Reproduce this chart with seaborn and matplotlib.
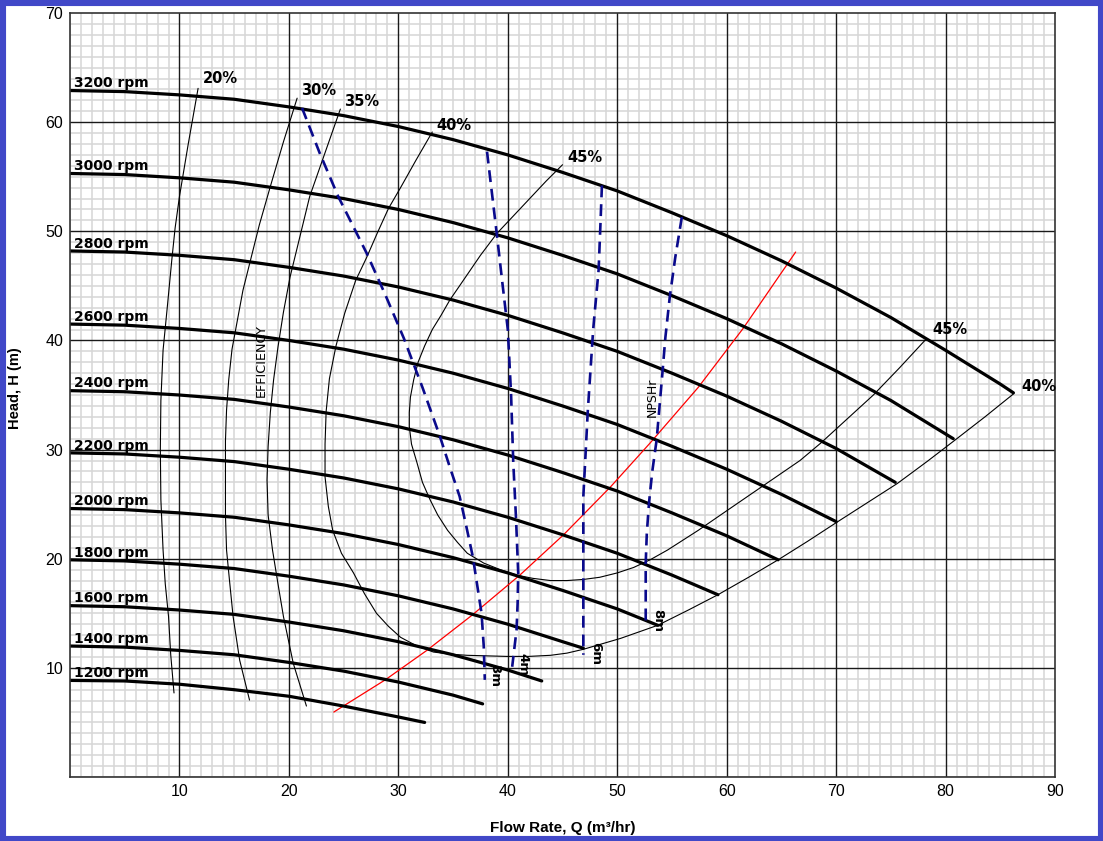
import numpy as np
import pandas as pd
import matplotlib
matplotlib.use("Agg")
import matplotlib.pyplot as plt
import seaborn as sns
from matplotlib.ticker import MultipleLocator
from matplotlib.patches import Rectangle

# ------------------------------------------
# Pump curves (head vs flow) for each speed
# ------------------------------------------
speeds = [3200, 3000, 2800, 2600, 2400, 2200, 2000, 1800, 1600, 1400, 1200]
q_steps = [0, 5, 10, 15, 20, 25, 30, 35, 40, 45, 50, 55, 60, 65, 70, 75, 80, 85]
q_end = [86.2, 80.7, 75.4, 70.0, 64.7, 59.2, 53.7, 46.9, 43.1, 37.7, 32.4]

h_3200 = [62.9, 62.8, 62.5, 62.1, 61.4, 60.6, 59.6, 58.4, 57.0, 55.4, 53.7, 51.7, 49.6, 47.3, 44.8, 42.1, 39.1, 36.0, 35.2]
h_3000 = [55.3, 55.2, 54.9, 54.5, 53.8, 53.0, 52.0, 50.8, 49.4, 47.8, 46.1, 44.1, 42.0, 39.7, 37.2, 34.5, 31.0]
h_2800 = [48.2, 48.1, 47.8, 47.4, 46.7, 45.9, 44.9, 43.7, 42.3, 40.7, 39.0, 37.0, 34.9, 32.6, 30.1, 27.0]
h_2600 = [41.5, 41.4, 41.1, 40.7, 40.0, 39.2, 38.2, 37.0, 35.6, 34.0, 32.3, 30.3, 28.2, 25.9, 23.4]
h_2400 = [35.4, 35.3, 35.0, 34.6, 33.9, 33.1, 32.1, 30.9, 29.5, 27.9, 26.2, 24.2, 22.1, 19.9]
h_2200 = [29.7, 29.6, 29.3, 28.9, 28.2, 27.4, 26.4, 25.2, 23.8, 22.2, 20.5, 18.5, 16.7]
h_2000 = [24.6, 24.5, 24.2, 23.8, 23.1, 22.3, 21.3, 20.1, 18.7, 17.1, 15.4, 13.9]
h_1800 = [19.9, 19.8, 19.5, 19.1, 18.4, 17.6, 16.6, 15.4, 14.0, 12.4, 11.8]
h_1600 = [15.7, 15.6, 15.3, 14.9, 14.2, 13.4, 12.4, 11.2, 9.8, 8.8]
h_1400 = [12.0, 11.9, 11.6, 11.2, 10.5, 9.7, 8.7, 7.5, 6.7]
h_1200 = [8.85, 8.8, 8.5, 8.0, 7.4, 6.5, 5.5, 5.0]

# ------------------------------------------
# Iso-efficiency curves
# ------------------------------------------
eff20_q = [11.7, 10.8, 10.0, 9.6, 9.3, 8.9, 8.5, 8.3, 8.25, 8.3, 8.5, 8.7, 9.0, 9.2, 9.5]
eff20_h = [63.1, 58.0, 53.2, 50.3, 47.4, 43.2, 39.1, 34.5, 30.0, 25.4, 20.8, 17.7, 14.7, 11.2, 7.7]
eff30_q = [20.75, 19.5, 18.3, 17.3, 16.5, 15.8, 15.3, 14.8, 14.5, 14.3, 14.2, 14.2, 14.2,
           14.3, 14.6, 14.9, 15.5, 16.4]
eff30_h = [62.2, 58.2, 54.1, 50.6, 47.4, 44.6, 41.9, 39.2, 36.4, 33.6, 30.8, 27.2, 24.0,
           20.8, 17.7, 14.7, 10.7, 7.05]
eff35_q = [24.7, 23.3, 21.9, 21.0, 20.1, 19.5, 19.0, 18.6, 18.3, 18.1, 18.0, 18.1, 18.5,
           19.0, 19.5, 20.4, 21.6]
eff35_h = [61.2, 57.2, 53.2, 49.5, 45.8, 42.6, 39.4, 36.4, 33.4, 30.3, 27.2, 24.0, 20.8,
           17.7, 14.7, 10.4, 6.5]
eff40_q = [33.1, 31.6, 30.2, 29.1, 28.1, 27.1, 26.1, 25.1, 24.3, 23.7, 23.4, 23.3, 23.3,
           23.6, 24.0, 24.8, 25.9, 26.9, 28.0, 29.1, 30.2, 31.7, 33.2, 34.8, 36.3, 38.1,
           39.9, 41.9, 43.9, 45.4, 46.9, 50.3, 53.7, 56.5, 59.2, 62.0, 64.7, 67.4, 70.0,
           72.8, 75.6, 78.3, 80.9, 83.6, 86.2]
eff40_h = [59.1, 56.5, 54.0, 52.1, 49.9, 47.6, 45.5, 42.5, 39.5, 36.5, 33.5, 30.5, 27.5,
           24.8, 22.6, 20.5, 18.7, 16.8, 15.0, 13.8, 12.8, 12.0, 11.45, 11.25, 11.15, 11.1,
           11.05, 11.05, 11.15, 11.35, 11.7, 12.7, 13.9, 15.3, 16.7, 18.3, 19.9, 21.6, 23.3,
           25.1, 26.9, 28.9, 30.9, 33.0, 35.1]
eff45_q = [45.0, 43.5, 42.0, 40.5, 39.0, 37.5, 36.0, 34.7, 33.9, 33.1, 32.4, 31.8, 31.4,
           31.1, 31.0, 31.0, 31.2, 31.7, 32.2, 32.9, 33.6, 34.5, 35.4, 36.3, 37.8, 39.3,
           40.8, 42.3, 43.9, 45.4, 46.9, 48.4, 50.0, 51.5, 53.0, 54.6, 57.4, 60.3, 63.5,
           66.7, 68.6, 71.0, 73.4, 75.8, 78.2]
eff45_h = [56.1, 54.6, 53.0, 51.4, 49.8, 47.8, 45.6, 43.7, 42.3, 41.0, 39.5, 38.0, 36.4,
           34.8, 33.4, 32.1, 30.5, 28.8, 27.0, 25.4, 24.0, 22.6, 21.5, 20.5, 19.6, 19.0,
           18.5, 18.2, 18.0, 18.0, 18.1, 18.3, 18.7, 19.2, 19.9, 20.8, 22.6, 24.6, 26.8,
           29.0, 30.6, 32.8, 35.0, 37.5, 40.1]

eff_labels = ["20%", "30%", "35%", "40%", "45%", "45%", "40%"]
eff_label_q = [12.15, 21.1, 25.0, 33.5, 45.4, 78.8, 86.9]
eff_label_h = [63.96, 62.9, 61.85, 59.7, 56.8, 41.0, 35.8]

# ------------------------------------------
# NPSHr curves
# ------------------------------------------
npsh3_q = [21.2, 22.8, 24.5, 25.8, 27.1, 28.8, 30.5, 32.2, 33.8, 34.7, 35.6, 36.2, 36.8,
           37.2, 37.6, 37.8, 37.9]
npsh3_h = [61.3, 57.2, 53.2, 50.6, 48.0, 44.2, 40.2, 35.7, 31.2, 28.4, 25.7, 23.0, 20.2,
           17.6, 15.0, 12.0, 8.9]
npsh4_q = [38.1, 38.55, 39.0, 39.5, 40.0, 40.3, 40.5, 40.75, 40.95, 40.9, 40.8, 40.4]
npsh4_h = [57.3, 53.5, 49.7, 45.3, 41.0, 35.0, 28.8, 23.7, 18.7, 16.0, 13.5, 10.1]
npsh6_q = [48.6, 48.45, 48.3, 47.8, 47.3, 47.1, 46.9, 46.9, 46.9]
npsh6_h = [54.2, 50.3, 46.5, 41.0, 33.4, 29.5, 25.7, 18.0, 11.2]
npsh8_q = [55.9, 55.3, 54.8, 54.4, 54.1, 53.6, 53.2, 52.9, 52.7, 52.6, 52.6]
npsh8_h = [51.3, 47.6, 44.0, 40.3, 36.7, 30.9, 28.0, 25.1, 22.3, 19.6, 14.1]

npsh_labels = ["3m", "4m", "6m", "8m"]
npsh_label_q = [38.8, 41.4, 48.0, 53.7]
npsh_label_h = [9.3, 10.3, 11.3, 14.3]

# ------------------------------------------
# System curve (red)
# ------------------------------------------
sys_q = [24.1, 28.8, 32.6, 36.7, 41.1, 45.1, 49.4, 53.0, 57.4, 61.5, 66.3]
sys_h = [5.95, 8.9, 11.6, 14.8, 18.5, 22.2, 26.6, 30.6, 35.7, 41.1, 48.1]

# ------------------------------------------
# Build long tables
# ------------------------------------------
speed_heads = [h_3200, h_3000, h_2800, h_2600, h_2400, h_2200, h_2000, h_1800, h_1600, h_1400, h_1200]
rows = []
for rpm, heads, qe in zip(speeds, speed_heads, q_end):
    qs = q_steps[:len(heads) - 1] + [qe]
    for q, h in zip(qs, heads):
        rows.append({"rpm": rpm, "Q": q, "H": h})
speed_df = pd.DataFrame(rows)

eff_df = pd.concat([
    pd.DataFrame({"eff": name, "Q": q, "H": h})
    for name, q, h in [("20", eff20_q, eff20_h), ("30", eff30_q, eff30_h), ("35", eff35_q, eff35_h),
                       ("40", eff40_q, eff40_h), ("45", eff45_q, eff45_h)]
], ignore_index=True)

npsh_df = pd.concat([
    pd.DataFrame({"npsh": name, "Q": q, "H": h})
    for name, q, h in [("3", npsh3_q, npsh3_h), ("4", npsh4_q, npsh4_h),
                       ("6", npsh6_q, npsh6_h), ("8", npsh8_q, npsh8_h)]
], ignore_index=True)

# ------------------------------------------
# Plot
# ------------------------------------------
sns.set_theme(style="white")
plt.rcParams["font.family"] = ["Liberation Sans", "DejaVu Sans"]
plt.rcParams.update({"text.color": "black", "axes.labelcolor": "black",
                     "xtick.color": "black", "ytick.color": "black"})

fig, ax = plt.subplots(figsize=(11.03, 8.41), dpi=100)
fig.subplots_adjust(left=0.0635, right=0.9565, bottom=0.0761, top=0.9845)

ax.set_xlim(0, 90)
ax.set_ylim(0, 70)
ax.set_xticks(range(10, 91, 10))
ax.set_yticks(range(10, 71, 10))
ax.xaxis.set_minor_locator(MultipleLocator(1))
ax.yaxis.set_minor_locator(MultipleLocator(1))
ax.set_axisbelow(True)
ax.grid(which="minor", color="#d6d6d6", linewidth=1.1)
ax.grid(which="major", visible=False)
# major grid on top of the minor one
for v in range(10, 90, 10):
    ax.axvline(v, color="#1a1a1a", linewidth=1.0, zorder=1)
for v in range(10, 70, 10):
    ax.axhline(v, color="#1a1a1a", linewidth=1.0, zorder=1)
ax.tick_params(which="both", length=0, labelsize=11.5)
ax.tick_params(axis="x", pad=5)
ax.tick_params(axis="y", pad=5)
for sp in ax.spines.values():
    sp.set_color("#333333")
    sp.set_linewidth(1.2)

# efficiency lines (thin)
sns.lineplot(data=eff_df, x="Q", y="H", units="eff", estimator=None, sort=False,
             color="black", linewidth=0.8, ax=ax, legend=False, solid_joinstyle="round")

# system curve
sns.lineplot(x=sys_q, y=sys_h, sort=False, estimator=None, color="red", linewidth=0.9,
             ax=ax, solid_joinstyle="round")

# pump curves
sns.lineplot(data=speed_df, x="Q", y="H", units="rpm", estimator=None, sort=False,
             color="black", linewidth=2.3, ax=ax, legend=False, solid_joinstyle="round")

# NPSHr dashed
n_before = len(ax.lines)
sns.lineplot(data=npsh_df, x="Q", y="H", units="npsh", estimator=None, sort=False,
             color="#0a0a8c", linewidth=1.9, ax=ax, legend=False)
for ln in ax.lines[n_before:]:
    ln.set_dashes((4.5, 2.6))
    ln.set_dash_capstyle("butt")

# labels
for rpm, heads in zip(speeds, speed_heads):
    ax.text(0.35, heads[0] + 0.3, f"{rpm} rpm", fontsize=10, fontweight="bold",
            family="DejaVu Sans", va="baseline", ha="left")

for lab, q, h in zip(eff_labels, eff_label_q, eff_label_h):
    ax.text(q, h, lab, fontsize=10.5, fontweight="bold", family="DejaVu Sans",
            va="center", ha="left")

for lab, q, h in zip(npsh_labels, npsh_label_q, npsh_label_h):
    ax.text(q, h, lab, fontsize=9.5, fontweight="bold", family="DejaVu Sans",
            rotation=-90, va="center", ha="center")

ax.text(17.5, 38.2, "EFFICIENCY", fontsize=9.2, family="DejaVu Sans",
        rotation=90, va="center", ha="center")
ax.text(53.2, 34.8, "NPSHr", fontsize=9, family="DejaVu Sans",
        rotation=90, va="center", ha="center")

ax.set_xlabel("Flow Rate, Q (m³/hr)", fontsize=11, fontweight="bold", labelpad=16)
ax.set_ylabel("Head, H (m)", fontsize=10.5, fontweight="bold")
ax.yaxis.set_label_coords(-0.049, 0.509)

# blue frame around the figure
fig.patches.append(Rectangle((0, 0), 1, 1, transform=fig.transFigure, fill=False,
                             edgecolor="#4148c8", linewidth=8, zorder=10))

fig.savefig("out.png", dpi=100)
